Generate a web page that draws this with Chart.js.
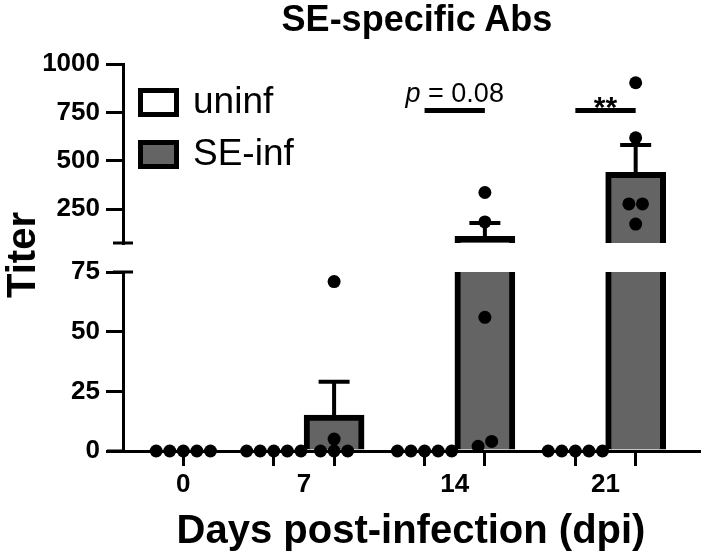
<!DOCTYPE html>
<html>
<head>
<meta charset="utf-8">
<script src="https://cdn.jsdelivr.net/npm/chart.js@4.4.0/dist/chart.umd.min.js"></script>
<style>
  body { margin: 0; background: #fff; }
  #wrap { position: relative; width: 708px; height: 554px; overflow: hidden; font-family: 'Liberation Sans', Arial, sans-serif; color: #000; }
  canvas { position: absolute; left: 0; }
  #top-chart { top: 0; }
  #bottom-chart { top: 240px; }
  #title { position: absolute; left: 217px; width: 400px; top: 1px; text-align: center; font-weight: bold; font-size: 36px; line-height: 36px; }
  #y-title { position: absolute; left: 21px; top: 255px; transform: translate(-50%, -50%) rotate(-90deg); font-weight: bold; font-size: 40px; line-height: 40px; white-space: nowrap; }
</style>
</head>
<body>
<div id="wrap">
  <canvas id="top-chart" width="708" height="270"></canvas>
  <canvas id="bottom-chart" width="708" height="314"></canvas>
  <div id="title">SE-specific Abs</div>
  <div id="y-title">Titer</div>
</div>
<script>
// data
const days = ['0', '7', '14', '21'];
const groups = ['uninf', 'SE-inf'];
const uninfMean = [0, 0, 0, 0];
const uninfSem = [0, 0, 0, 0];
const uninfPoints = [[0, 0, 0, 0, 0], [0, 0, 0, 0, 0], [0, 0, 0, 0, 0], [0, 0, 0, 0, 0]];
const infMean = [null, 15, 110, 440];
const infSem = [null, 14, 68, 142];
const infPoints = [null, [0, 0, 0, 5, 71], [2, 4, 56, 184, 336], [173, 277, 277, 619, 903]];
const upperTicks = [250, 500, 750, 1000];
const lowerTicks = [0, 25, 50, 75];
const breakValue = 75;
const upperMax = 1000;
const sigDays = [2, 3];
const sigLabels = ['p = 0.08', '**'];
const sigLevel = 760;

// layout
const FONT = "'Liberation Sans', Arial, sans-serif";
const groupCenter = [0, 4, 9, 14];
const xMin = -2;
const xMax = 17.1;

function barX(di, gi) {
  if (infMean[di] == null) return groupCenter[di];
  return groupCenter[di] + (gi === 0 ? -1 : 1);
}

// rough pixel height used only to spread overlapping dots sideways
function pseudoPx(v) {
  return v <= breakValue ? v * 179 / 75 : 208 + (v - breakValue) * 179 / 925;
}

function swarm(values, cx) {
  const sorted = values.slice().sort((a, b) => a - b);
  const out = [];
  let i = 0;
  while (i < sorted.length) {
    let j = i + 1;
    while (j < sorted.length && pseudoPx(sorted[j]) - pseudoPx(sorted[j - 1]) < 10) j++;
    const n = j - i;
    for (let k = 0; k < n; k++) out.push({ x: cx + (k - (n - 1) / 2) * 0.45, y: sorted[i + k] });
    i = j;
  }
  return out;
}

function pointsFor(pointsArr, gi, keep) {
  const pts = [];
  pointsArr.forEach((vals, di) => {
    if (!vals) return;
    swarm(vals, barX(di, gi)).filter(keep).forEach(p => pts.push(p));
  });
  return pts;
}

function barsFor(means, sems, gi) {
  const out = [];
  means.forEach((m, di) => {
    if (m == null) return;
    out.push({ x: barX(di, gi), y: m, sem: sems[di] });
  });
  return out;
}

const barPositions = [];
days.forEach((d, di) => {
  barPositions.push(barX(di, 0));
  if (infMean[di] != null) barPositions.push(barX(di, 1));
});
const xTicks = Array.from(new Set(barPositions.concat(groupCenter))).sort((a, b) => a - b);

function makeDatasets(keep) {
  const barStyle = {
    type: 'bar',
    borderColor: '#000',
    borderWidth: 6,
    borderSkipped: 'bottom',
    barThickness: 60,
    grouped: false,
    clip: 0,
    order: 2
  };
  const dotStyle = {
    type: 'scatter',
    backgroundColor: '#000',
    borderWidth: 0,
    pointRadius: 6.5,
    pointHoverRadius: 6.5,
    clip: false,
    order: 1
  };
  return [
    Object.assign({}, barStyle, { label: groups[0], backgroundColor: '#fff', data: barsFor(uninfMean, uninfSem, 0) }),
    Object.assign({}, barStyle, { label: groups[1], backgroundColor: '#646464', data: barsFor(infMean, infSem, 1) }),
    Object.assign({}, dotStyle, { label: groups[0] + ' pts', data: pointsFor(uninfPoints, 0, keep) }),
    Object.assign({}, dotStyle, { label: groups[1] + ' pts', data: pointsFor(infPoints, 1, keep) })
  ];
}

const errorBars = {
  id: 'errorBars',
  afterDatasetDraw(chart, args) {
    const ds = chart.data.datasets[args.index];
    if (ds.type !== 'bar') return;
    const ctx = chart.ctx;
    const y = chart.scales.y;
    const area = chart.chartArea;
    ctx.save();
    ctx.beginPath();
    ctx.rect(area.left, area.top - 4, area.right - area.left, area.bottom - area.top + 4);
    ctx.clip();
    ctx.strokeStyle = '#000';
    ctx.lineWidth = 4;
    args.meta.data.forEach((bar, i) => {
      const d = ds.data[i];
      if (!d.sem) return;
      const base = y.getPixelForValue(d.y);
      const top = y.getPixelForValue(d.y + d.sem);
      ctx.beginPath();
      ctx.moveTo(bar.x, base);
      ctx.lineTo(bar.x, top);
      ctx.moveTo(bar.x - 15.5, top);
      ctx.lineTo(bar.x + 15.5, top);
      ctx.stroke();
    });
    ctx.restore();
  }
};

// little horizontal caps where the y axis is broken
const axisBreak = {
  id: 'axisBreak',
  afterDraw(chart, args, opts) {
    const ctx = chart.ctx;
    const a = chart.chartArea;
    const yy = opts.edge === 'bottom' ? a.bottom : a.top;
    ctx.save();
    ctx.strokeStyle = '#000';
    ctx.lineWidth = 3;
    ctx.beginPath();
    ctx.moveTo(a.left - 10, yy);
    ctx.lineTo(a.left + 10, yy);
    if (opts.edge === 'top') {
      // x axis runs a bit left of the y axis
      ctx.moveTo(a.left - 16, a.bottom);
      ctx.lineTo(a.left, a.bottom);
    }
    ctx.stroke();
    ctx.restore();
  }
};

const legendAndStats = {
  id: 'legendAndStats',
  afterDraw(chart) {
    const ctx = chart.ctx;
    const a = chart.chartArea;
    const x = chart.scales.x;
    const y = chart.scales.y;
    ctx.save();
    // legend
    chart.data.datasets.slice(0, 2).forEach((ds, i) => {
      const bx = a.left + 15;
      const by = a.top + 24 + i * 52;
      ctx.fillStyle = ds.backgroundColor;
      ctx.fillRect(bx, by, 41, 29);
      ctx.strokeStyle = '#000';
      ctx.lineWidth = 5;
      ctx.strokeRect(bx + 2.5, by + 2.5, 36, 24);
      ctx.fillStyle = '#000';
      ctx.font = '37px ' + FONT;
      ctx.textAlign = 'left';
      ctx.textBaseline = 'middle';
      ctx.fillText(ds.label, bx + 55, by + 15);
    });
    // significance lines
    sigDays.forEach((di, k) => {
      const x1 = x.getPixelForValue(barX(di, 0));
      const x2 = x.getPixelForValue(barX(di, 1));
      const yy = y.getPixelForValue(sigLevel);
      ctx.strokeStyle = '#000';
      ctx.lineWidth = 5;
      ctx.beginPath();
      ctx.moveTo(x1, yy);
      ctx.lineTo(x2, yy);
      ctx.stroke();
      const cx = (x1 + x2) / 2;
      ctx.fillStyle = '#000';
      ctx.textBaseline = 'alphabetic';
      const label = sigLabels[k];
      if (label.startsWith('p')) {
        const rest = label.slice(1);
        ctx.font = 'italic 27px ' + FONT;
        const w1 = ctx.measureText('p').width;
        ctx.font = '27px ' + FONT;
        const w2 = ctx.measureText(rest).width;
        const sx = cx - (w1 + w2) / 2;
        ctx.textAlign = 'left';
        ctx.font = 'italic 27px ' + FONT;
        ctx.fillText('p', sx, yy - 8);
        ctx.font = '27px ' + FONT;
        ctx.fillText(rest, sx + w1, yy - 8);
      } else {
        ctx.font = 'bold 30px ' + FONT;
        ctx.textAlign = 'center';
        ctx.fillText(label, cx, yy + 7);
      }
    });
    ctx.restore();
  }
};

function yScale(min, max, tickVals) {
  return {
    min: min,
    max: max,
    afterBuildTicks: s => { s.ticks = tickVals.map(v => ({ value: v })); },
    afterFit: s => { s.width = 123; },
    border: { color: '#000', width: 3 },
    grid: { drawOnChartArea: false, color: '#000', lineWidth: 3, tickLength: 17 },
    ticks: {
      color: '#000',
      padding: 6,
      font: { family: FONT, size: 26, weight: 'bold' },
      callback: v => String(v)
    }
  };
}

const commonPlugins = {
  legend: { display: false },
  tooltip: { enabled: false },
  title: { display: false }
};

new Chart(document.getElementById('top-chart'), {
  type: 'bar',
  data: { datasets: makeDatasets(p => p.y > breakValue) },
  options: {
    responsive: false,
    animation: false,
    events: [],
    layout: { padding: { top: 64, right: 9, bottom: 27, left: 0 } },
    scales: {
      x: { type: 'linear', min: xMin, max: xMax, display: false, offset: false, grid: { offset: false } },
      y: yScale(breakValue, upperMax, upperTicks)
    },
    plugins: Object.assign({ axisBreak: { edge: 'bottom' } }, commonPlugins)
  },
  plugins: [errorBars, axisBreak, legendAndStats]
});

new Chart(document.getElementById('bottom-chart'), {
  type: 'bar',
  data: { datasets: makeDatasets(p => p.y <= breakValue) },
  options: {
    responsive: false,
    animation: false,
    events: [],
    layout: { padding: { top: 32, right: 9, bottom: 0, left: 0 } },
    scales: {
      x: {
        type: 'linear',
        min: xMin,
        max: xMax,
        offset: false,
        afterBuildTicks: s => { s.ticks = xTicks.map(v => ({ value: v })); },
        afterFit: s => { s.height = 103; },
        border: { color: '#000', width: 3 },
        grid: {
          offset: false,
          drawOnChartArea: false,
          lineWidth: 3,
          tickLength: 15,
          tickColor: ctx => (ctx.tick && barPositions.includes(ctx.tick.value)) ? '#000' : 'rgba(0,0,0,0)'
        },
        ticks: {
          autoSkip: false,
          maxRotation: 0,
          padding: 3,
          color: '#000',
          font: { family: FONT, size: 26, weight: 'bold' },
          callback: v => {
            const i = groupCenter.indexOf(v);
            return i >= 0 ? days[i] : '';
          }
        },
        title: {
          display: true,
          text: 'Days post-infection (dpi)',
          color: '#000',
          padding: 0,
          font: { family: FONT, size: 40, weight: 'bold', lineHeight: 1.1 }
        }
      },
      y: yScale(0, breakValue, lowerTicks)
    },
    plugins: Object.assign({ axisBreak: { edge: 'top' } }, commonPlugins)
  },
  plugins: [errorBars, axisBreak]
});
</script>
</body>
</html>
